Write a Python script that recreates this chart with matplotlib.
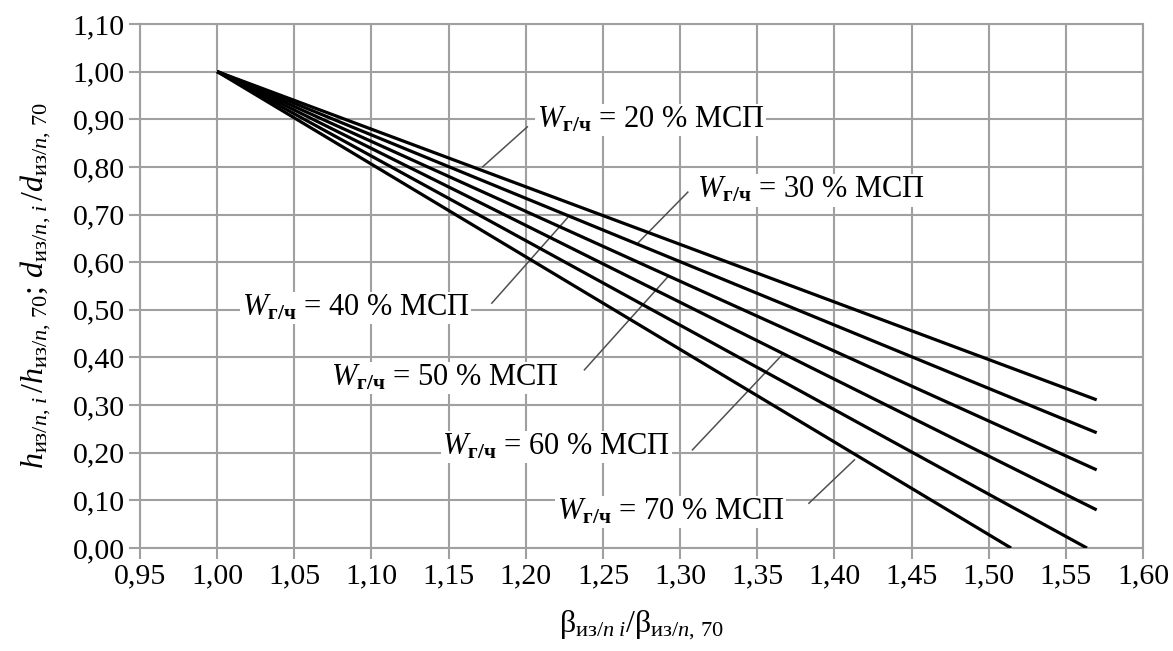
import numpy as np
import matplotlib
matplotlib.use('Agg')
import matplotlib.pyplot as plt

plt.rcParams['font.family'] = ['Liberation Serif', 'DejaVu Serif']
plt.rcParams['mathtext.fontset'] = 'custom'
plt.rcParams['mathtext.rm'] = 'Liberation Serif'
plt.rcParams['mathtext.it'] = 'Liberation Serif:italic'
plt.rcParams['mathtext.bf'] = 'Liberation Serif:bold'

# each line runs straight from (1.00, 1.00) to its end point
moisture = [20, 30, 40, 50, 60, 70]
x_start = 1.00
y_start = 1.00
x_end = [1.570, 1.570, 1.570, 1.570, 1.5637, 1.5145]
y_end = [0.311, 0.242, 0.164, 0.080, 0.000, 0.000]

# label text anchor (left, middle) and leader line ends
label_x = [1.207, 1.311, 1.016, 1.074, 1.146, 1.220]
label_y = [0.898, 0.751, 0.504, 0.357, 0.212, 0.076]
lead_x1 = [1.172, 1.272, 1.178, 1.238, 1.308, 1.3835]
lead_y1 = [0.800, 0.638, 0.514, 0.374, 0.206, 0.094]
lead_x2 = [1.201, 1.305, 1.227, 1.292, 1.366, 1.413]
lead_y2 = [0.884, 0.747, 0.693, 0.569, 0.405, 0.185]

x_ticks = np.round(np.arange(0.95, 1.601, 0.05), 2)
y_ticks = np.round(np.arange(0.0, 1.101, 0.10), 2)

fig = plt.figure(figsize=(11.73, 6.51), dpi=100)
ax = fig.add_axes([0.1194, 0.1582, 0.855, 0.805])

grid_c = '#a0a0a0'
for i in range(len(moisture)):
    ax.plot([x_start, x_end[i]], [y_start, y_end[i]], color='black', lw=2.3,
            solid_capstyle='butt', zorder=4)
    ax.plot([lead_x1[i], lead_x2[i]], [lead_y1[i], lead_y2[i]], color='#505050',
            lw=1.1, zorder=3)
    ax.text(label_x[i], label_y[i],
            r'$W_{\mathbf{г/ч}}$' + ' = %d %% МСП' % moisture[i],
            fontsize=22, va='center', ha='left', zorder=2,
            bbox=dict(facecolor='white', edgecolor='none', pad=1))

ax.set_xlim(0.95, 1.60)
ax.set_ylim(0.0, 1.10)
ax.set_xticks(x_ticks)
ax.set_yticks(y_ticks)
ax.set_xticklabels([('%.2f' % v).replace('.', ',') for v in x_ticks])
ax.set_yticklabels([('%.2f' % v).replace('.', ',') for v in y_ticks])
ax.tick_params(direction='out', length=8, width=1.5, color=grid_c,
               labelsize=21.5, pad=3)
ax.grid(True, color=grid_c, lw=1.5, zorder=0)
ax.set_axisbelow(True)
for s in ax.spines.values():
    s.set_color(grid_c)
    s.set_linewidth(1.5)

ax.set_xlabel(r'$\mathrm{β}_{\mathrm{из}/n\;i}/\mathrm{β}_{\mathrm{из}/n,\,70}$',
              fontsize=23, labelpad=14)
ax.set_ylabel(r'$h_{\mathrm{из}/n,\,i}\,/h_{\mathrm{из}/n,\,70};\,d_{\mathrm{из}/n,\,i}\,/d_{\mathrm{из}/n,\,70}$',
              fontsize=23, labelpad=14)

fig.savefig('out.png', dpi=100)
